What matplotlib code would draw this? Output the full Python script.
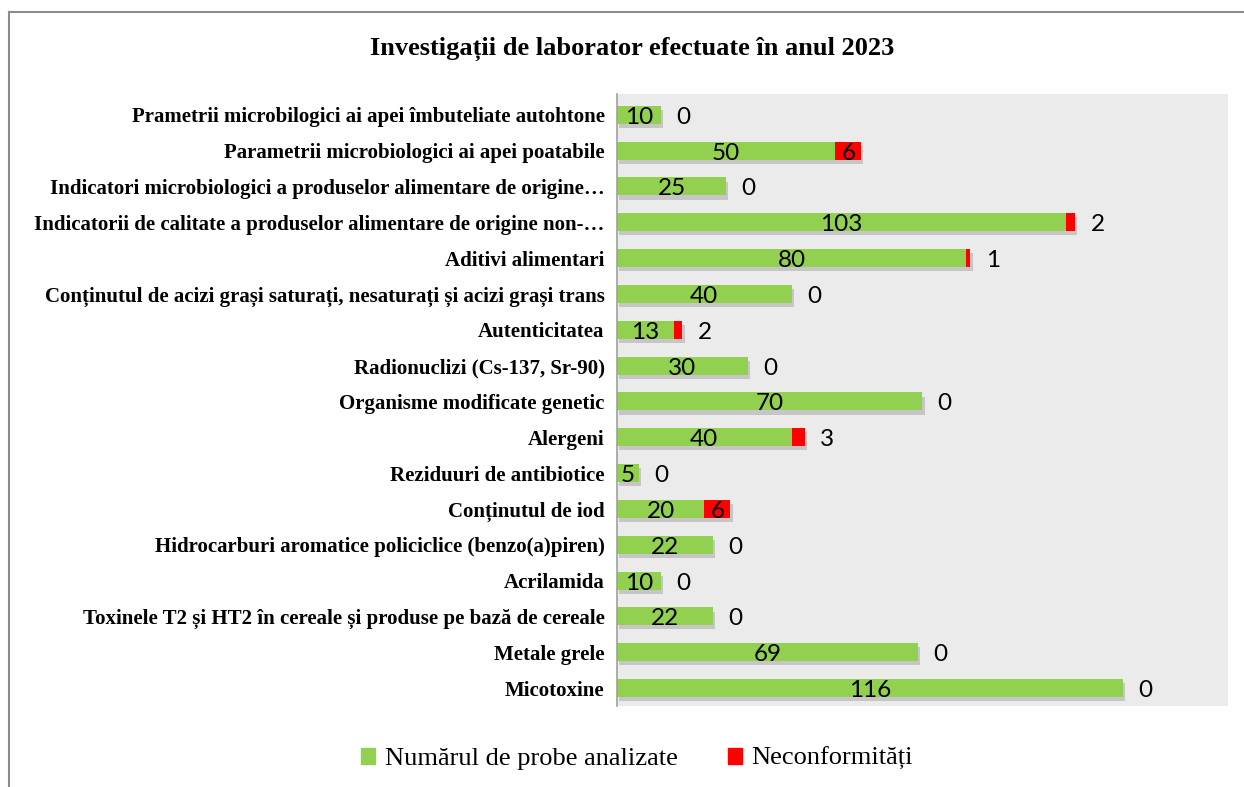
import matplotlib.pyplot as plt
import matplotlib.patheffects as pe
from matplotlib.patches import Patch
import numpy as np

# Data (top to bottom as in the chart)
categories = [
    'Prametrii microbilogici ai apei îmbuteliate autohtone',
    'Parametrii microbiologici ai apei poatabile',
    'Indicatori microbiologici a produselor alimentare de origine…',
    'Indicatorii de calitate a produselor alimentare de origine non-…',
    'Aditivi alimentari',
    'Conținutul de acizi grași saturați, nesaturați și acizi grași trans',
    'Autenticitatea',
    'Radionuclizi (Cs-137, Sr-90)',
    'Organisme modificate genetic',
    'Alergeni',
    'Reziduuri de antibiotice',
    'Conținutul de iod',
    'Hidrocarburi aromatice policiclice (benzo(a)piren)',
    'Acrilamida',
    'Toxinele T2 și HT2 în cereale și produse pe bază de cereale',
    'Metale grele',
    'Micotoxine',
]
probe = [10, 50, 25, 103, 80, 40, 13, 30, 70, 40, 5, 20, 22, 10, 22, 69, 116]
neconf = [0, 6, 0, 2, 1, 0, 2, 0, 0, 3, 0, 6, 0, 0, 0, 0, 0]

green = '#92d050'
red = '#ff0000'

fig = plt.figure(figsize=(12.44, 7.87), dpi=100)
ax = fig.add_axes([0.496, 0.103, 0.491, 0.778])
ax.set_facecolor('#ebebeb')

y = np.arange(len(categories))
shadow = [pe.SimplePatchShadow(offset=(1.5, -3), alpha=0.22, shadow_rgbFace='#444444'), pe.Normal()]
ax.barh(y, probe, height=0.5, color=green, path_effects=shadow)
ax.barh(y, neconf, left=probe, height=0.5, color=red, path_effects=shadow)

lab_font = dict(family=['Lato', 'DejaVu Sans'], fontsize=17.5, color='black')
for i in range(len(categories)):
    ax.text(probe[i] / 2, y[i] + 0.07, str(probe[i]), ha='center', va='center', **lab_font)
    if neconf[i] >= 5:
        ax.text(probe[i] + neconf[i] / 2, y[i] + 0.07, str(neconf[i]),
                ha='center', va='center', **lab_font)
    else:
        ax.annotate(str(neconf[i]), (probe[i] + neconf[i], y[i] + 0.07),
                    xytext=(11, 0), textcoords='offset points',
                    ha='left', va='center', **lab_font)

ax.set_xlim(0, 140)
ax.set_ylim(16.5, -0.59)
ax.set_yticks(y)
ax.set_yticklabels(categories, family='Liberation Serif', fontweight='bold', fontsize=15)
ax.tick_params(axis='y', length=0, pad=9)
ax.set_xticks([])
for s in ['top', 'right', 'bottom']:
    ax.spines[s].set_visible(False)
ax.spines['left'].set_color('#a0a0a0')
ax.spines['left'].set_linewidth(1.2)

fig.text(0.508, 0.938, 'Investigații de laborator efectuate în anul 2023',
         ha='center', va='center', family='Liberation Serif',
         fontweight='bold', fontsize=19)

handles = [Patch(color=green, label='Numărul de probe analizate'),
           Patch(color=red, label='Neconformități')]
fig.legend(handles=handles, loc='center', bbox_to_anchor=(0.512, 0.036), ncol=2,
           frameon=False, prop={'family': 'Liberation Serif', 'size': 19},
           handlelength=0.55, handleheight=0.55, handletextpad=0.35, columnspacing=1.9)

# outer chart border (top and left visible)
fig.add_artist(plt.Line2D([9 / 1244, 1], [1 - 12 / 787, 1 - 12 / 787],
                          transform=fig.transFigure, color='#8c8c8c', lw=1.5))
fig.add_artist(plt.Line2D([9 / 1244, 9 / 1244], [0, 1 - 12 / 787],
                          transform=fig.transFigure, color='#8c8c8c', lw=1.5))

plt.savefig('out.png', dpi=100)
